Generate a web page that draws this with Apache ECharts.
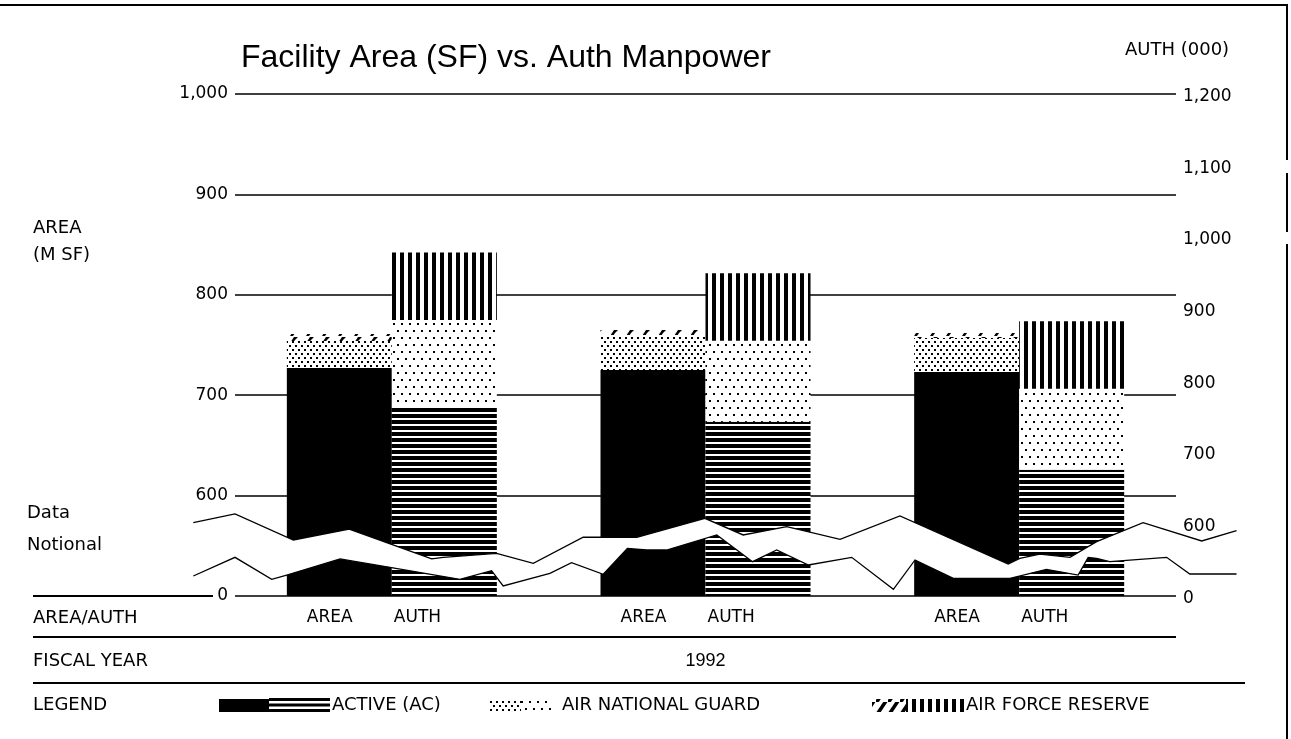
<!DOCTYPE html>
<html>
<head>
<meta charset="utf-8">
<script src="https://cdn.jsdelivr.net/npm/echarts@6/dist/echarts.min.js"></script>
<style>
  html, body { margin: 0; padding: 0; background: #fff; }
  #chart { width: 1291px; height: 739px; }
</style>
</head>
<body>
<div id="chart"></div>
<script>
// three column groups, all fiscal year 1992
const groups = ['1992-1', '1992-2', '1992-3'];
const barNames = ['AREA', 'AUTH'];
const fiscalYears = ['', '1992', ''];

// area (M SF) - left axis
const areaActive  = [727, 725, 723];
const areaANG     = [27, 35, 34];
const areaReserve = [7, 6, 5];

// auth (000) - right axis
const authActive  = [765, 743, 676];
const authANG     = [120, 113, 113];
const authReserve = [94, 94, 94];

// axis break lines (x in category units, y in M SF)
const dataLineX = [-0.133, 0, 0.186, 0.364, 0.627, 0.664, 0.834, 0.951, 1.110, 1.281, 1.498, 1.620, 1.759, 1.929, 2.120, 2.465, 2.502, 2.566, 2.662, 2.747, 2.895, 3.082, 3.193];
const dataLineY = [573, 581.7, 555.8, 566.7, 536.9, 538.5, 542.5, 532.6, 558.5, 558.5, 577.4, 560.8, 569, 556.5, 579.7, 531.9, 537.5, 541.8, 538.5, 554.1, 573, 554.8, 565];
const notionalX = [-0.133, 0, 0.117, 0.165, 0.335, 0.494, 0.717, 0.818, 0.855, 1.004, 1.073, 1.174, 1.251, 1.312, 1.376, 1.536, 1.650, 1.727, 1.828, 1.966, 2.099, 2.168, 2.290, 2.471, 2.587, 2.688, 2.720, 2.747, 2.789, 2.970, 3.044, 3.193];
const notionalY = [519.9, 538.5, 516.6, 520.9, 536.9, 528.6, 516.6, 525.2, 510, 522.6, 533.2, 521.6, 547.5, 545.8, 545.8, 560.8, 534.2, 545.8, 530.9, 538.5, 506.7, 535.9, 517.6, 517.6, 526.6, 520.9, 538.5, 537.5, 534.2, 538.5, 521.9, 521.9];

const LBL = '"DejaVu Sans", sans-serif';

function pattern(w, h, draw) {
    const c = document.createElement('canvas');
    c.width = w; c.height = h;
    const g = c.getContext('2d');
    g.fillStyle = '#fff';
    g.fillRect(0, 0, w, h);
    g.fillStyle = '#000';
    g.strokeStyle = '#000';
    draw(g);
    return { image: c, repeat: 'repeat' };
}

const hStripes = pattern(6, 6, g => g.fillRect(0, 0, 6, 4));
const vStripes = pattern(8, 8, g => g.fillRect(0, 0, 4, 8));
const denseDots = pattern(6, 8, g => { g.fillRect(1, 1, 2, 2); g.fillRect(4, 5, 2, 2); });
const sparseDots = pattern(8, 14, g => { g.fillRect(1, 1, 2, 2); g.fillRect(5, 8, 2, 2); });
const slashBand = pattern(16, 7, g => {
    g.beginPath();
    g.moveTo(2, 7); g.lineTo(6, 1); g.lineTo(10, 1); g.lineTo(7, 4); g.lineTo(5, 7);
    g.closePath(); g.fill();
});
const slashes = pattern(12, 13, g => {
    g.lineWidth = 3.5;
    g.beginPath(); g.moveTo(0, 14); g.lineTo(10, -1); g.stroke();
});

function fmt(v) {
    if (v === 500) return '0';
    return v >= 1000 ? Math.floor(v / 1000) + ',' + String(v % 1000).padStart(3, '0') : String(v);
}

function hline(x1, y, x2, w) {
    return { type: 'line', shape: { x1: x1, y1: y, x2: x2, y2: y }, style: { stroke: '#000', lineWidth: w || 2 }, z: 10 };
}
function vline(x, y1, y2) {
    return { type: 'line', shape: { x1: x, y1: y1, x2: x, y2: y2 }, style: { stroke: '#000', lineWidth: 2 }, z: 10 };
}
function txt(s, x, y, font) {
    return { type: 'text', x: x, y: y, z: 10,
        style: { text: s, font: font || ('18px ' + LBL), fill: '#000', textAlign: 'left', textVerticalAlign: 'middle', verticalAlign: 'middle' } };
}
function box(x, y, w, h, fill) {
    return { type: 'rect', shape: { x: x, y: y, width: w, height: h }, style: { fill: fill }, z: 10 };
}

const chart = echarts.init(document.getElementById('chart'));

const option = {
    backgroundColor: '#fff',
    animation: false,
    title: {
        text: 'Facility Area (SF) vs. Auth Manpower',
        left: 236, top: 37,
        textStyle: { fontFamily: '"Liberation Sans", Arial, sans-serif', fontSize: 32, fontWeight: 'normal', color: '#000' }
    },
    grid: { left: 235, right: 115, top: 94, bottom: 143 },
    xAxis: [
        {
            type: 'category', data: groups,
            axisLine: { show: false }, axisTick: { show: false },
            axisLabel: {
                margin: 13,
                formatter: () => '{a|' + barNames[0] + '}{b|' + barNames[1] + '}{s|}',
                rich: {
                    a: { width: 87, align: 'left', fontFamily: LBL, fontSize: 17, color: '#000' },
                    b: { width: 55, align: 'left', fontFamily: LBL, fontSize: 17, color: '#000' },
                    s: { width: 28 }
                }
            }
        },
        {
            type: 'category', data: fiscalYears, position: 'bottom', offset: 43,
            axisLine: { show: false }, axisTick: { show: false },
            axisLabel: { margin: 13, interval: 0, fontFamily: '"Liberation Sans", Arial, sans-serif', fontSize: 18, color: '#000' }
        },
        { type: 'value', min: 0, max: 3, show: false }
    ],
    yAxis: [
        {
            type: 'value', min: 500, max: 1000, interval: 100,
            axisLine: { show: false }, axisTick: { show: false },
            axisLabel: { margin: 7, formatter: fmt, fontFamily: LBL, fontSize: 17, color: '#000' },
            splitLine: { show: true, lineStyle: { color: '#000', width: 1.5 } }
        },
        {
            type: 'value', min: 500, max: 1200, interval: 100,
            axisLine: { show: false }, axisTick: { show: false },
            axisLabel: { margin: 7, formatter: fmt, fontFamily: LBL, fontSize: 17, color: '#000', verticalAlign: 'top', padding: [-6, 0, 0, 0] },
            splitLine: { show: false }
        }
    ],
    series: [
        { name: 'ACTIVE (AC)', type: 'bar', stack: 'area', yAxisIndex: 0, barWidth: 105, barGap: '0%', data: areaActive, itemStyle: { color: '#000' } },
        { name: 'AIR NATIONAL GUARD', type: 'bar', stack: 'area', yAxisIndex: 0, barWidth: 105, data: areaANG, itemStyle: { color: denseDots } },
        { name: 'AIR FORCE RESERVE', type: 'bar', stack: 'area', yAxisIndex: 0, barWidth: 105, data: areaReserve, itemStyle: { color: slashBand } },
        { name: 'ACTIVE (AC) auth', type: 'bar', stack: 'auth', yAxisIndex: 1, barWidth: 105, barGap: '0%', data: authActive, itemStyle: { color: hStripes } },
        { name: 'AIR NATIONAL GUARD auth', type: 'bar', stack: 'auth', yAxisIndex: 1, barWidth: 105, data: authANG, itemStyle: { color: sparseDots } },
        { name: 'AIR FORCE RESERVE auth', type: 'bar', stack: 'auth', yAxisIndex: 1, barWidth: 105, data: authReserve, itemStyle: { color: vStripes } },
        {
            name: 'break', type: 'custom', coordinateSystem: 'cartesian2d',
            xAxisIndex: 2, yAxisIndex: 0, z: 5, clip: false, silent: true,
            data: [[0, 500]],
            renderItem: function (params, api) {
                const up = dataLineX.map((x, i) => api.coord([x, dataLineY[i]]));
                const lo = notionalX.map((x, i) => api.coord([x, notionalY[i]]));
                return {
                    type: 'group',
                    children: [
                        { type: 'polygon', shape: { points: up.concat(lo.slice().reverse()) }, style: { fill: '#fff', stroke: null } },
                        { type: 'polyline', shape: { points: up }, style: { stroke: '#000', lineWidth: 1.3, fill: null } },
                        { type: 'polyline', shape: { points: lo }, style: { stroke: '#000', lineWidth: 1.3, fill: null } }
                    ]
                };
            }
        }
    ],
    graphic: [
        // frame
        hline(0, 5, 1288, 2),
        vline(1287, 5, 160), vline(1287, 173, 232), vline(1287, 244, 739),
        // table rules
        hline(33, 596, 213),
        hline(33, 637, 1176),
        hline(33, 683, 1245),
        // side labels
        txt('AREA', 33, 228), txt('(M SF)', 33, 255),
        txt('AUTH (000)', 1125, 50),
        txt('Data', 27, 513), txt('Notional', 27, 545),
        txt('AREA/AUTH', 33, 618), txt('FISCAL YEAR', 33, 661), txt('LEGEND', 33, 705),
        // legend
        box(219, 699, 50, 13, '#000'),
        box(269, 698, 61, 3, '#000'), box(269, 703.5, 61, 3, '#000'), box(269, 709, 61, 3, '#000'),
        txt('ACTIVE (AC)', 332, 705),
        box(489, 699, 32, 13, denseDots), box(521, 699, 30, 13, sparseDots),
        txt('AIR NATIONAL GUARD', 562, 705),
        box(872, 699, 34, 13, slashes), box(906, 699, 60, 13, vStripes),
        txt('AIR FORCE RESERVE', 966, 705)
    ]
};

chart.setOption(option);
</script>
</body>
</html>
